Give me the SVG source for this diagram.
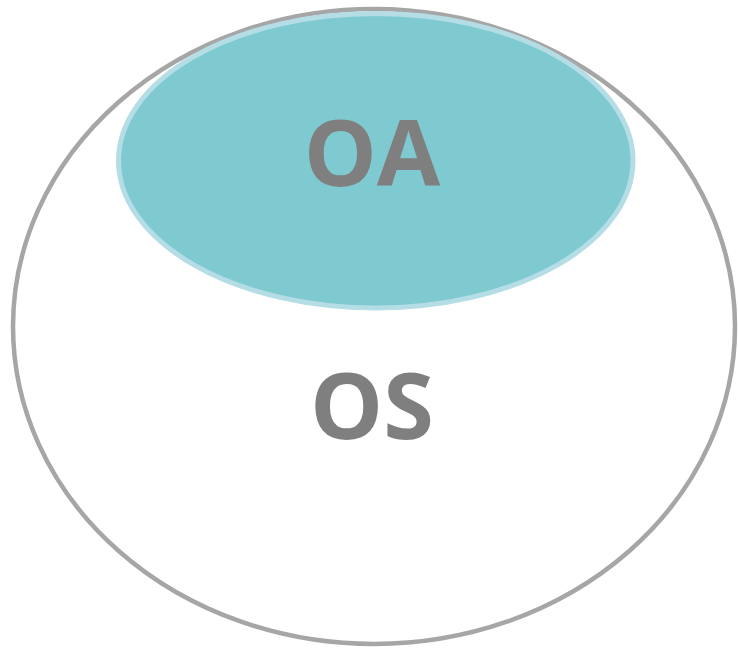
<svg xmlns="http://www.w3.org/2000/svg" width="738" height="648" viewBox="0 0 738 648">
<style>
.lbl{font-family:"Open Sans","Liberation Sans",sans-serif;font-weight:bold;fill:#7f7f7f;text-anchor:middle;font-size:92px}
</style>
<rect width="738" height="648" fill="#ffffff"/>
<g id="os">
<ellipse cx="374" cy="326.5" rx="361" ry="317.5" fill="#ffffff" stroke="#a6a6a6" stroke-width="4.5"/>
<text class="lbl" x="372" y="439">OS</text>
</g>
<g id="oa">
<ellipse cx="375.75" cy="160.75" rx="257.25" ry="147.25" fill="#7fc9d1" stroke="#b4dde6" stroke-width="5"/>
<text class="lbl" x="372" y="186">OA</text>
</g>
<g id="connectors"/>
</svg>
